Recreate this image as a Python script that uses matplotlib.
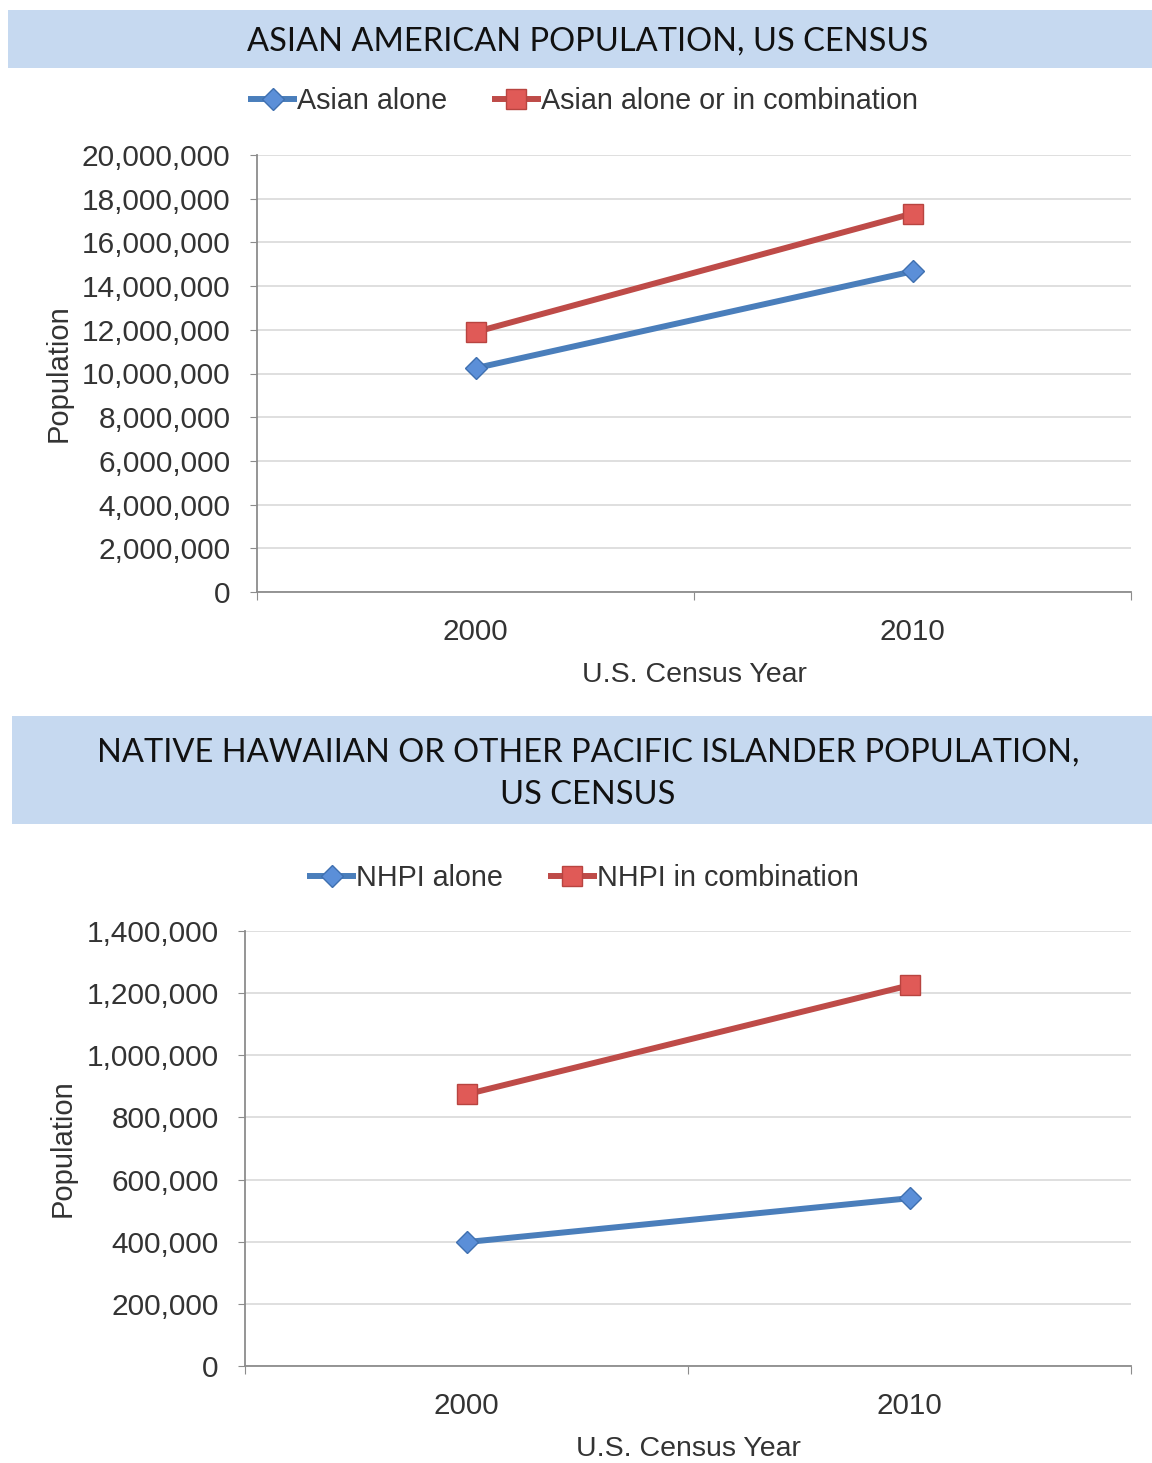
import matplotlib
matplotlib.use("Agg")
import matplotlib.pyplot as plt
from matplotlib.patches import Rectangle
from matplotlib.ticker import FuncFormatter

# data
years = ["2000", "2010"]
asian_alone = [10242998, 14674252]
asian_combo = [11898828, 17320856]
nhpi_alone = [398835, 540013]
nhpi_combo = [874414, 1225195]

W, H = 1152, 1463
BLUE = "#4a7ebb"
RED = "#be4b48"
GRID = "#d9d9d9"
SPINE = "#8c8c8c"
BANNER = "#c6d9f0"
TEXT = "#333333"

plt.rcParams["font.family"] = ["Liberation Sans", "DejaVu Sans"]

fig = plt.figure(figsize=(W / 100, H / 100), dpi=100)


def px_axes(x0, x1, ytop, ybot):
    return fig.add_axes([x0 / W, (H - ybot) / H, (x1 - x0) / W, (ybot - ytop) / H])


def banner(x0, x1, ytop, ybot, text, ytext):
    fig.patches.append(Rectangle((x0 / W, (H - ybot) / H), (x1 - x0) / W, (ybot - ytop) / H,
                                 transform=fig.transFigure, facecolor=BANNER, edgecolor="none",
                                 zorder=0))
    fig.text(588 / W, (H - ytext) / H, text, ha="center", va="center",
             fontsize=23.5, family=["Lato", "DejaVu Sans"], color="#111111", linespacing=1.5)


def draw(ax, alone, combo, ymax, step, labels, legend_y):
    x = range(len(years))
    ax.plot(x, alone, color=BLUE, lw=4.3, marker="D", ms=11.5, mfc="#5b8fd8", mec="#3f70b0",
            mew=1, label=labels[0], zorder=3, solid_capstyle="butt")
    ax.plot(x, combo, color=RED, lw=4.3, marker="s", ms=15, mfc="#e05a57", mec="#b84440",
            mew=1, label=labels[1], zorder=3, solid_capstyle="butt")
    ax.set_xlim(-0.5, 1.5)
    ax.set_ylim(0, ymax)
    ax.set_yticks(range(0, ymax + 1, step))
    ax.yaxis.set_major_formatter(FuncFormatter(lambda v, p: f"{int(v):,}"))
    ax.set_xticks([-0.5, 0.5, 1.5])
    ax.set_xticklabels([])
    ax.set_xticks([0, 1], minor=True)
    ax.set_xticklabels(years, minor=True)
    ax.tick_params(axis="x", which="minor", length=0, pad=19, labelsize=21.3, labelcolor=TEXT)
    ax.tick_params(axis="x", which="major", length=6, color=SPINE, direction="out")
    ax.tick_params(axis="y", length=5, color=SPINE, labelsize=21.5, labelcolor=TEXT, pad=14)
    ax.grid(axis="y", color=GRID, lw=1.2)
    ax.set_axisbelow(True)
    for s in ["top", "right"]:
        ax.spines[s].set_visible(False)
    for s in ["left", "bottom"]:
        ax.spines[s].set_color(SPINE)
        ax.spines[s].set_linewidth(1.3)
    ax.set_xlabel("U.S. Census Year", fontsize=20.5, color=TEXT, labelpad=11)
    ax.set_ylabel("Population", fontsize=21, color=TEXT, labelpad=7)
    ax.legend(loc="center", bbox_to_anchor=(0.506, (H - legend_y) / H), bbox_transform=fig.transFigure,
              ncol=2, frameon=False, fontsize=20.7, handlelength=1.7, handletextpad=0.0,
              columnspacing=1.55, labelcolor=TEXT)


banner(8, 1152, 10, 68, "ASIAN AMERICAN POPULATION, US CENSUS", 42)
banner(12, 1152, 716, 824, "NATIVE HAWAIIAN OR OTHER PACIFIC ISLANDER POPULATION,\nUS CENSUS", 774)

ax1 = px_axes(257, 1131, 155, 592)
draw(ax1, asian_alone, asian_combo, 20000000, 2000000,
     ["Asian alone", "Asian alone or in combination"], 101)

ax2 = px_axes(245, 1131, 931, 1366)
draw(ax2, nhpi_alone, nhpi_combo, 1400000, 200000,
     ["NHPI alone", "NHPI in combination"], 878)

fig.savefig("out.png", dpi=100)
